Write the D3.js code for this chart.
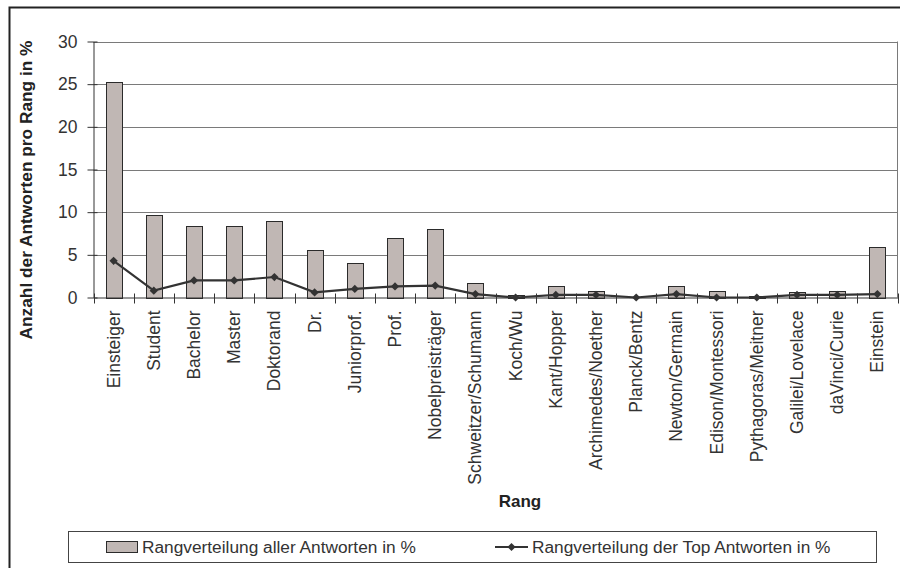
<!DOCTYPE html>
<html>
<head>
<meta charset="utf-8">
<script src="https://cdn.jsdelivr.net/npm/d3@7"></script>
<style>
  html, body { margin: 0; padding: 0; background: #fff; }
  svg { display: block; font-family: "Liberation Sans", Arial, sans-serif; }
</style>
</head>
<body>
<svg id="chart" width="900" height="568"></svg>
<script>
// Rang categories (x axis)
const categories = [
  "Einsteiger", "Student", "Bachelor", "Master", "Doktorand", "Dr.",
  "Juniorprof.", "Prof.", "Nobelpreisträger", "Schweitzer/Schumann",
  "Koch/Wu", "Kant/Hopper", "Archimedes/Noether", "Planck/Bentz",
  "Newton/Germain", "Edison/Montessori", "Pythagoras/Meitner",
  "Galilei/Lovelace", "daVinci/Curie", "Einstein"
];

// Share of all answers per rank, in %
const allAnswers = [
  25.2, 9.7, 8.4, 8.4, 9.0, 5.6, 4.1, 7.0, 8.0, 1.7,
  0.3, 1.3, 0.8, 0.0, 1.4, 0.8, 0.2, 0.6, 0.8, 5.9
];

// Share of top answers per rank, in %
const topAnswers = [
  4.3, 0.8, 2.0, 2.0, 2.4, 0.6, 1.0, 1.3, 1.4, 0.4,
  0.0, 0.3, 0.3, 0.0, 0.4, 0.0, 0.0, 0.3, 0.3, 0.4
];

const yTicks = [0, 5, 10, 15, 20, 25, 30];

const seriesNames = [
  "Rangverteilung aller Antworten in %",
  "Rangverteilung der Top Antworten in %"
];

const yTitle = "Anzahl der Antworten pro Rang in %";
const xTitle = "Rang";

const svg = d3.select("#chart");
const textColor = "#333333";
const barFill = "#c0b7b4";
const lineColor = "#333333";

// outer chart frame
svg.append("rect")
  .attr("x", 9.5).attr("y", 7.5)
  .attr("width", 900).attr("height", 600)
  .attr("fill", "none")
  .attr("stroke", "#222").attr("stroke-width", 2);

const plot = { left: 93.5, right: 897.5, top: 41.5, bottom: 297.5 };

const x = d3.scaleBand()
  .domain(categories)
  .range([plot.left, plot.right])
  .paddingInner(0.6).paddingOuter(0.3);

const xCenter = d3.scalePoint()
  .domain(categories)
  .range([plot.left, plot.right])
  .padding(0.5);

const y = d3.scaleLinear().domain([0, 30]).range([plot.bottom, plot.top]);

// horizontal gridlines
svg.append("g")
  .selectAll("line")
  .data(yTicks.filter(t => t > 0))
  .join("line")
  .attr("x1", plot.left).attr("x2", plot.right)
  .attr("y1", d => Math.round(y(d)) + 0.5).attr("y2", d => Math.round(y(d)) + 0.5)
  .attr("stroke", "#7a7a7a").attr("stroke-width", 1);

// right border of plot area
svg.append("line")
  .attr("x1", plot.right).attr("x2", plot.right)
  .attr("y1", plot.top).attr("y2", plot.bottom)
  .attr("stroke", "#7a7a7a").attr("stroke-width", 1);

// bars
svg.append("g")
  .selectAll("rect")
  .data(categories.map((c, i) => ({ c, v: allAnswers[i] })))
  .join("rect")
  .attr("x", d => Math.round(x(d.c)) + 0.5)
  .attr("y", d => Math.round(y(d.v)) + 0.5)
  .attr("width", Math.round(x.bandwidth()))
  .attr("height", d => Math.max(0, Math.round(y(0)) - Math.round(y(d.v))))
  .attr("fill", barFill)
  .attr("stroke", "#2b2b2b").attr("stroke-width", 1);

// y axis
const yAxis = d3.axisLeft(y)
  .tickValues(yTicks)
  .tickSize(0)
  .tickPadding(16)
  .tickFormat(d3.format("d"));
const gy = svg.append("g")
  .attr("transform", `translate(${plot.left},0)`)
  .call(yAxis);
gy.select(".domain").attr("stroke", "#333").attr("stroke-width", 1);
gy.selectAll(".tick text")
  .attr("fill", textColor)
  .style("font-size", "17.5px");
gy.selectAll(".tick")
  .append("line")
  .attr("x1", -6).attr("x2", 4)
  .attr("stroke", "#333");

// x axis
const xAxis = d3.axisBottom(xCenter).tickSize(0).tickFormat("");
const gx = svg.append("g")
  .attr("transform", `translate(0,${plot.bottom})`)
  .call(xAxis);
gx.select(".domain").attr("stroke", "#333").attr("stroke-width", 1);
gx.selectAll(".tick").remove();

// category boundary ticks
const step = xCenter.step();
const bounds = d3.range(categories.length + 1).map(i => plot.left + i * step);
gx.append("g")
  .selectAll("line")
  .data(bounds)
  .join("line")
  .attr("x1", d => Math.round(d) + 0.5).attr("x2", d => Math.round(d) + 0.5)
  .attr("y1", -4).attr("y2", 6)
  .attr("stroke", "#333");

// rotated category labels
gx.append("g")
  .selectAll("text")
  .data(categories)
  .join("text")
  .attr("transform", d => `translate(${xCenter(d) + 6},13) rotate(-90)`)
  .attr("text-anchor", "end")
  .attr("fill", textColor)
  .style("font-size", "17.5px")
  .text(d => d);

// line series with diamond markers
const line = d3.line()
  .x((d, i) => xCenter(categories[i]))
  .y(d => y(d));

svg.append("path")
  .datum(topAnswers)
  .attr("d", line)
  .attr("fill", "none")
  .attr("stroke", lineColor)
  .attr("stroke-width", 2.2);

const marker = d3.symbol().type(d3.symbolSquare).size(34);
svg.append("g")
  .selectAll("path")
  .data(topAnswers)
  .join("path")
  .attr("d", marker)
  .attr("transform", (d, i) => `translate(${xCenter(categories[i])},${y(d)}) rotate(45)`)
  .attr("fill", lineColor);

// axis titles
svg.append("text")
  .attr("transform", "translate(32,190) rotate(-90)")
  .attr("text-anchor", "middle")
  .attr("fill", "#222")
  .style("font-size", "17.3px")
  .style("font-weight", "bold")
  .text(yTitle);

svg.append("text")
  .attr("x", 520).attr("y", 507)
  .attr("text-anchor", "middle")
  .attr("fill", "#222")
  .style("font-size", "17px")
  .style("font-weight", "bold")
  .text(xTitle);

// legend
const lg = svg.append("g");
lg.append("rect")
  .attr("x", 68.5).attr("y", 531.5)
  .attr("width", 808).attr("height", 31)
  .attr("fill", "#fff").attr("stroke", "#444");

lg.append("rect")
  .attr("x", 106.5).attr("y", 541.5)
  .attr("width", 31).attr("height", 11)
  .attr("fill", barFill).attr("stroke", "#2b2b2b");
lg.append("text")
  .attr("x", 142).attr("y", 553)
  .attr("fill", textColor)
  .style("font-size", "17.3px")
  .text(seriesNames[0]);

lg.append("line")
  .attr("x1", 495).attr("x2", 528)
  .attr("y1", 547).attr("y2", 547)
  .attr("stroke", lineColor).attr("stroke-width", 2.2);
lg.append("path")
  .attr("transform", "translate(511.5,547) rotate(45)")
  .attr("d", marker)
  .attr("fill", lineColor);
lg.append("text")
  .attr("x", 532).attr("y", 553)
  .attr("fill", textColor)
  .style("font-size", "17.3px")
  .text(seriesNames[1]);
</script>
</body>
</html>
